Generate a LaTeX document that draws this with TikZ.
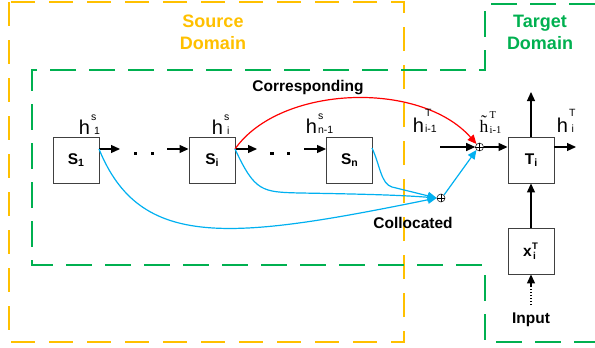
\documentclass[tikz,border=0pt]{standalone}
\usepackage{fontspec}
\setmainfont{Liberation Sans}
\newfontfamily\seriffont{Liberation Serif}
\usetikzlibrary{arrows.meta}
\definecolor{orng}{HTML}{FFC000}
\definecolor{grn}{HTML}{00B050}
\definecolor{blu}{HTML}{00B0F0}
\definecolor{rd}{HTML}{FF0000}
\newcommand{\Sub}[2][-1.5pt]{\raisebox{#1}{\fontsize{10.5}{10.5}\selectfont #2}}
% stacked label: base, sup, sub, sup raise, sub raise, sub kern
\newcommand{\Hlab}[6]{#1\kern1.2pt\makebox[0pt][l]{\raisebox{#4}{\fontsize{10.5}{10.5}\selectfont #2}}\kern#6\raisebox{#5}{\fontsize{10.5}{10.5}\selectfont #3}}
\begin{document}
\begin{tikzpicture}[x=1pt,y=-1pt,
  box/.style={draw=black!75, line width=0.9pt, minimum width=46pt, minimum height=46pt, inner sep=0pt, font=\fontsize{15.5}{18}\selectfont\bfseries},
  arr/.style={line width=1.2pt, -{Triangle[length=9pt,width=8pt]}},
  barr/.style={line width=1.2pt, draw=blu, -{Triangle[length=9pt,width=8pt]}},
  lab/.style={anchor=base west, inner sep=0pt, font=\fontsize{20}{22}\selectfont},
  opl/.style={circle, draw=black!85, line width=0.6pt, inner sep=0pt, minimum size=8pt},
  title/.style={font=\fontsize{18}{21.5}\selectfont\bfseries, align=center},
  btxt/.style={font=\fontsize{15.5}{18}\selectfont\bfseries, inner sep=0pt}]
\useasboundingbox (0,0) rectangle (595,348);

% domain frames
\draw[orng, line width=1.4pt, dash pattern=on 24pt off 14pt] (9,2) rectangle (404,342);
\draw[grn, line width=1.2pt, dash pattern=on 26pt off 13pt]
  (595,4) -- (485,4) -- (485,70) -- (32,70) -- (32,265) -- (485,265) -- (485,342) -- (595,342);

\node[title, text=orng] (srcT) at (213,32.5) {Source\\Domain};
\node[title, text=grn] (tgtT) at (540,32.5) {Target\\Domain};

% boxes
\node[box] (S1) at (76,160) {S\Sub[-2pt]{\bfseries 1}};
\node[box] (Si) at (212,160) {S\Sub[-2pt]{\bfseries i}};
\node[box] (Sn) at (349.5,160) {S\Sub[-2pt]{\bfseries n}};
\node[box] (Ti) at (531,160) {T\Sub[-2pt]{\bfseries i}};
\node[box] (xT) at (531,251) {x\kern0.5pt\makebox[0pt][l]{\raisebox{7pt}{\fontsize{9.5}{9.5}\selectfont\bfseries T}}\raisebox{-3pt}{\fontsize{10}{10}\selectfont\bfseries\kern1pt i}\kern3pt};

% operators
\node[opl] (op1) at (479.5,147) {};
\draw[line width=0.6pt] (op1.north) -- (op1.south) (op1.west) -- (op1.east);
\node[opl] (op2) at (441,198) {};
\draw[line width=0.6pt] (op2.north) -- (op2.south) (op2.west) -- (op2.east);

% chain arrows
\coordinate (o1) at (99,149);
\coordinate (e1) at (120,149);
\draw[arr] (o1) -- (e1);
\fill (133.5,151.5) rectangle ++(3.5,3.5);
\fill (150.5,151.5) rectangle ++(3.5,3.5);
\coordinate (a2) at (167,149);
\draw[arr] (a2) -- (a2 -| Si.west);
\coordinate (oi) at (235,149);
\coordinate (ei) at (257,149);
\draw[arr] (oi) -- (ei);
\fill (270,151.5) rectangle ++(3.5,3.5);
\fill (286.5,151.5) rectangle ++(3.5,3.5);
\coordinate (a3) at (304,149);
\draw[arr] (a3) -- (a3 -| Sn.west);
\coordinate (on) at (372,148);

% target side
\coordinate (hin) at (440,147);
\draw[arr] (hin) -- (op1.west);
\draw[arr] (op1.east) -- (op1.east -| Ti.west);
\coordinate (tout) at (576,147);
\draw[arr] (tout -| Ti.east) -- (tout);
\coordinate (tup) at (531,92);
\draw[arr] (Ti.north) -- (tup);
\draw[arr] (xT.north) -- (Ti.south);
\node[btxt] (inp) at (531,320) {Input};
\coordinate (dstart) at (531,305);
\coordinate (dend) at (531,285.5);
\draw[line width=1.2pt, dash pattern=on 1.5pt off 1.5pt] (dstart) -- (dend);
\draw[arr] (dend) -- (xT.south);

% red corresponding curve
\draw[rd, line width=1.2pt, -{Triangle[length=9pt,width=8pt]}]
  (oi) .. controls (280,85) and (420,80) .. (op1.north west);
\node[btxt] (corr) at (308,88) {Corresponding};

% blue collocated curves
\draw[barr] (o1) .. controls (140,250) and (230,240) .. (op2.west);
\draw[barr] (oi) .. controls (255,192) and (262,192) .. (300,193) .. controls (360,194) and (400,195) .. (op2.west);
\draw[barr] (on) .. controls (380,165) and (381,184) .. (392,187) -- (op2.west);
\draw[barr] (op2.north east) -- (op1.south west);
\node[btxt] (coll) at (413,223) {Collocated};

% labels
\node[lab] (l1) at (78.6,134) {\Hlab{h}{s}{1}{14pt}{0pt}{3pt}};
\node[lab] (l2) at (211.6,134) {\Hlab{h}{s}{i}{14pt}{0pt}{3pt}};
\node[lab] (l3) at (305.6,133) {\Hlab{h}{s}{n-1}{14pt}{0pt}{0pt}};
\node[lab] (l4) at (412.6,132) {\Hlab{h}{T}{i-1}{16pt}{0pt}{0pt}};
\node[lab, font=\fontsize{17.5}{20}\selectfont\seriffont] (l5) at (479.5,132) {\Hlab{\~h}{T}{i-1}{14pt}{-1pt}{0pt}};
\node[lab] (l6) at (556.6,132) {\Hlab{h}{T}{i}{16pt}{0pt}{2.5pt}};
\end{tikzpicture}
\end{document}
